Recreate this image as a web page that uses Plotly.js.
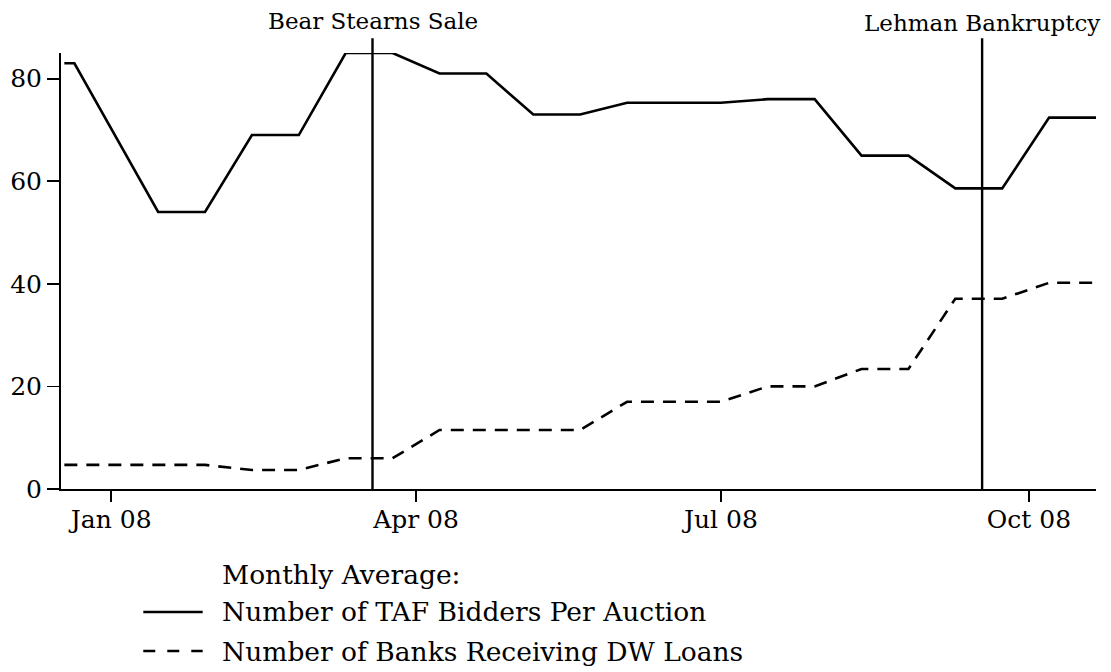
<!DOCTYPE html>
<html>
<head>
<meta charset="utf-8">
<script src="https://cdn.plot.ly/plotly-3.0.1.min.js"></script>
<style>html,body{margin:0;padding:0;background:#fff;}#chart{width:1111px;height:672px;}</style>
</head>
<body>
<div id="chart"></div>
<script>
// Auction dates (biweekly TAF auctions)
const dates = ['2007-12-18','2007-12-21','2008-01-15','2008-01-29','2008-02-12','2008-02-26',
  '2008-03-11','2008-03-25','2008-04-08','2008-04-22','2008-05-06','2008-05-20',
  '2008-06-03','2008-06-17','2008-07-01','2008-07-15','2008-07-29','2008-08-12',
  '2008-08-26','2008-09-09','2008-09-23','2008-10-07','2008-10-21'];
// Monthly average: number of TAF bidders per auction
const tafBidders = [83, 83, 54, 54, 69, 69, 85, 85, 81, 81, 73, 73,
  75.3, 75.3, 75.3, 76, 76, 65, 65, 58.6, 58.6, 72.4, 72.4];
// Monthly average: number of banks receiving DW loans
const dwBanks = [4.7, 4.7, 4.7, 4.7, 3.7, 3.7, 6, 6, 11.5, 11.5, 11.5, 11.5,
  17, 17, 17, 20, 20, 23.4, 23.4, 37.1, 37.1, 40.2, 40.2];
// Events
const eventDates = ['2008-03-19', '2008-09-17'];
const eventLabels = ['Bear Stearns Sale', 'Lehman Bankruptcy'];
// Axis ticks
const xTickVals = ['2008-01-01','2008-04-01','2008-07-01','2008-10-01'];
const xTickText = ['Jan 08','Apr 08','Jul 08','Oct 08'];
const yTickVals = [0, 20, 40, 60, 80];
// Legend
const legendTitle = 'Monthly Average:';
const seriesNames = ['Number of TAF Bidders Per Auction', 'Number of Banks Receiving DW Loans'];

const FONT = 'DejaVu Serif';
const FS = 23;
const FS_TICK = 25;
const FS_LEG = 26.5;

const traces = [
  {x: dates, y: tafBidders, type: 'scatter', mode: 'lines', name: seriesNames[0],
   line: {color: '#000', width: 2.6}},
  {x: dates, y: dwBanks, type: 'scatter', mode: 'lines', name: seriesNames[1],
   line: {color: '#000', width: 2.6, dash: '13px,9px'}}
];

const shapes = eventDates.map(d => ({
  type: 'line', xref: 'x', yref: 'paper', x0: d, x1: d, y0: 0, y1: 1.0337,
  line: {color: '#000', width: 2.4}
}));
const legendY = [-0.2821, -0.3716];
const legendDash = ['solid', '12px,12px'];
legendY.forEach((yy, i) => {
  shapes.push({type: 'line', xref: 'paper', yref: 'paper', x0: 0.0795, x1: 0.1369, y0: yy, y1: yy,
    line: {color: '#000', width: 2.6, dash: legendDash[i]}});
});

const annotations = eventDates.map((d, i) => ({
  x: d, xref: 'x', yref: 'paper', y: i === 0 ? 1.073 : 1.068, yanchor: 'middle', xanchor: 'center',
  text: eventLabels[i], showarrow: false, font: {family: FONT, size: FS, color: '#000'}
}));
annotations.push({x: 0.1536, xref: 'paper', yref: 'paper', y: -0.1972, xanchor: 'left', yanchor: 'middle',
  text: legendTitle, showarrow: false, font: {family: FONT, size: FS_LEG, color: '#000'}});
legendY.forEach((yy, i) => {
  annotations.push({x: 0.1536, xref: 'paper', yref: 'paper', y: yy, xanchor: 'left', yanchor: 'middle',
    text: seriesNames[i], showarrow: false, font: {family: FONT, size: FS_LEG, color: '#000'}});
});

const layout = {
  width: 1111, height: 672,
  margin: {l: 61, r: 15, t: 53, b: 183, pad: 0},
  paper_bgcolor: '#fff', plot_bgcolor: '#fff',
  font: {family: FONT, size: FS, color: '#000'},
  showlegend: false,
  xaxis: {
    type: 'date', range: ['2007-12-17', '2008-10-21'],
    tickmode: 'array', tickvals: xTickVals, ticktext: xTickText,
    ticks: 'outside', ticklen: 11, tickwidth: 1.8, tickcolor: '#000',
    ticklabelstandoff: -4,
    showline: true, linecolor: '#000', linewidth: 2,
    showgrid: false, zeroline: false,
    tickfont: {family: FONT, size: FS_TICK, color: '#000'}
  },
  yaxis: {
    range: [0, 85], tickmode: 'array', tickvals: yTickVals,
    ticks: 'outside', ticklen: 12, tickwidth: 1.8, tickcolor: '#000',
    showline: true, linecolor: '#000', linewidth: 2,
    showgrid: false, zeroline: false,
    tickfont: {family: FONT, size: FS_TICK, color: '#000'}
  },
  shapes: shapes,
  annotations: annotations
};

Plotly.newPlot('chart', traces, layout, {displayModeBar: false, staticPlot: true});
</script>
</body>
</html>
